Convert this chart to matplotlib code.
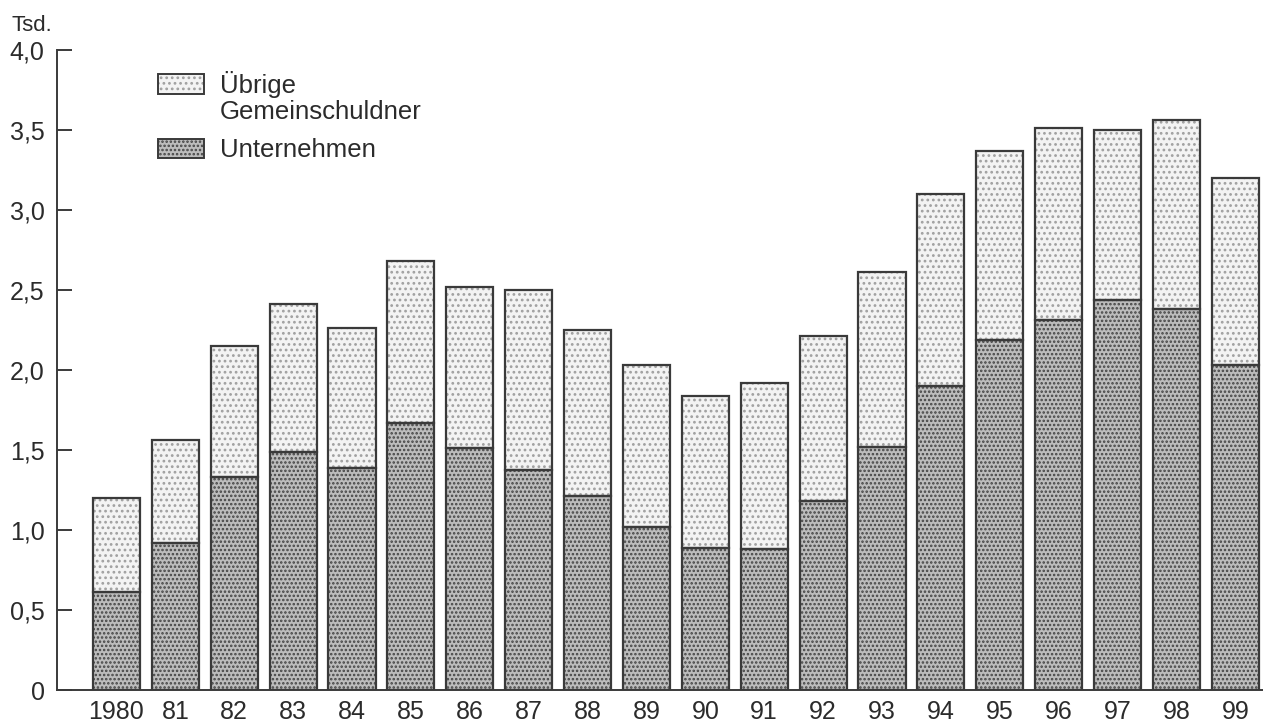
import numpy as np
import matplotlib
matplotlib.use("Agg")
import matplotlib.pyplot as plt
from matplotlib.patches import Rectangle

plt.rcParams["font.family"] = ["Liberation Sans", "DejaVu Sans"]
plt.rcParams["hatch.linewidth"] = 1.2

_TEXT = "#2b2b2b"
_EDGE = "#3a3a3a"

# Insolvenzen in Tsd.
years = ["1980", "81", "82", "83", "84", "85", "86", "87", "88", "89",
         "90", "91", "92", "93", "94", "95", "96", "97", "98", "99"]
unternehmen = [0.61, 0.92, 1.33, 1.49, 1.385, 1.67, 1.51, 1.375, 1.21, 1.02,
               0.885, 0.88, 1.18, 1.52, 1.90, 2.19, 2.31, 2.44, 2.38, 2.03]
insgesamt = [1.20, 1.56, 2.15, 2.41, 2.26, 2.68, 2.52, 2.50, 2.25, 2.03,
             1.84, 1.92, 2.21, 2.61, 3.10, 3.37, 3.51, 3.50, 3.56, 3.20]
uebrige = [t - u for t, u in zip(insgesamt, unternehmen)]

yticks = [0, 0.5, 1.0, 1.5, 2.0, 2.5, 3.0, 3.5, 4.0]
ytick_labels = ["0", "0,5", "1,0", "1,5", "2,0", "2,5", "3,0", "3,5", "4,0"]

W, H = 1263, 725
fig = plt.figure(figsize=(W / 100, H / 100), dpi=100)
ax = fig.add_axes([57 / W, 35 / H, 1 - 57 / W, (690 - 50) / H])

x = np.arange(len(years))
width = 0.8

light_fc, light_hc = "#f3f3f3", "#a0a0a0"
dark_fc, dark_hc = "#bcbcbc", "#444444"

# fill + dot screen, then the outlines on top
ax.bar(x, unternehmen, width, color=dark_fc, linewidth=0)
ax.bar(x, unternehmen, width, fill=False, hatch="....", edgecolor=dark_hc, linewidth=0)
ax.bar(x, uebrige, width, bottom=unternehmen, color=light_fc, linewidth=0)
ax.bar(x, uebrige, width, bottom=unternehmen, fill=False, hatch="...",
       edgecolor=light_hc, linewidth=0)
ax.bar(x, unternehmen, width, fill=False, edgecolor=_EDGE, linewidth=1.6)
ax.bar(x, uebrige, width, bottom=unternehmen, fill=False, edgecolor=_EDGE, linewidth=1.6)

ax.set_xlim(-1.01, 19.47)
ax.set_ylim(0, 4.0)
ax.set_xticks(x)
ax.set_xticklabels(years, fontsize=18, color=_TEXT)
ax.set_yticks(yticks)
ax.set_yticklabels(ytick_labels, fontsize=18, color=_TEXT)
ax.tick_params(axis="x", length=0, pad=7)
ax.tick_params(axis="y", direction="in", length=11, width=1.4, color=_EDGE, pad=9)
for side in ("top", "right"):
    ax.spines[side].set_visible(False)
for side in ("left", "bottom"):
    ax.spines[side].set_color(_EDGE)
    ax.spines[side].set_linewidth(1.4)

fig.text(12 / W, 1 - 31 / H, "Tsd.", fontsize=16, color=_TEXT, va="baseline")

# legend, drawn by hand so the swatch lines up with the first text line
for (top, bot), fc, hc, hatch in [((74, 94), light_fc, light_hc, "..."),
                                  ((139, 158), dark_fc, dark_hc, "....")]:
    xy = (158 / W, 1 - bot / H)
    w, h = 46 / W, (bot - top) / H
    fig.patches.append(Rectangle(xy, w, h, transform=fig.transFigure,
                                 facecolor=fc, linewidth=0))
    fig.patches.append(Rectangle(xy, w, h, transform=fig.transFigure, fill=False,
                                 hatch=hatch, edgecolor=hc, linewidth=0))
    fig.patches.append(Rectangle(xy, w, h, transform=fig.transFigure, fill=False,
                                 edgecolor=_EDGE, linewidth=1.4))
for label, base in [("Übrige", 93), ("Gemeinschuldner", 119), ("Unternehmen", 157)]:
    fig.text(220 / W, 1 - base / H, label, fontsize=18.5, color=_TEXT, va="baseline")

fig.savefig("out.png", dpi=100)
